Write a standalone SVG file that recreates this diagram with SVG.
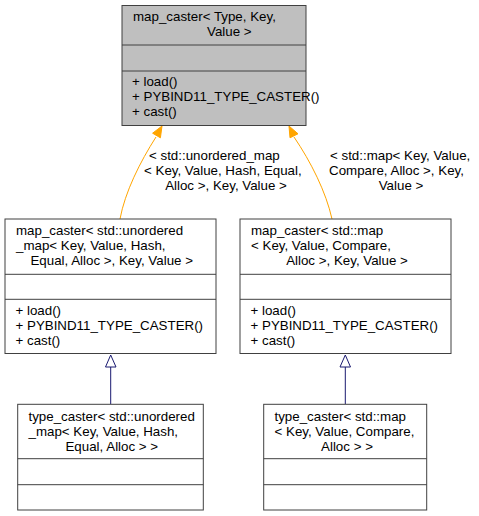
<svg xmlns="http://www.w3.org/2000/svg" width="479" height="516" viewBox="0 0 479 516">
<style>
text{font-family:"Liberation Sans",Arial,sans-serif;font-size:13.33px;fill:#000}
.box{fill:#fff;stroke:#404040;stroke-width:1}
.hl{fill:#bfbfbf}
.div{stroke:#404040;stroke-width:1;fill:none}
.m{text-anchor:middle}
.ed{fill:none;stroke:#ffa500;stroke-width:1}
.eh{fill:#ffa500;stroke:#ffa500}
.in{fill:none;stroke:#191970;stroke-width:1}
.ih{fill:#fff;stroke:#191970}
</style>
<rect width="479" height="516" fill="#fff"/>
<g id="connectors">
<path class="ed" d="M120,219 C125,192 140,162 156,137"/>
<polygon class="eh" points="162,126 152.6,133.2 160.4,137.8"/>
<path class="ed" d="M332,219 C326,192 311,162 294,137"/>
<polygon class="eh" points="289,126 298,133.8 290,137.8"/>
<text x="149" y="160">&lt; std::unordered_map</text>
<text x="144" y="175">&lt; Key, Value, Hash, Equal,</text>
<text x="226" y="190" class="m">Alloc &gt;, Key, Value &gt;</text>
<text x="330" y="160">&lt; std::map&lt; Key, Value,</text>
<text x="329" y="175">Compare, Alloc &gt;, Key,</text>
<text x="401" y="190" class="m">Value &gt;</text>
<line class="in" x1="110.7" y1="367" x2="110.7" y2="404"/>
<polygon class="ih" points="110.7,355 105.5,367 116,367"/>
<line class="in" x1="345.3" y1="367" x2="345.3" y2="404"/>
<polygon class="ih" points="345.3,355 340,367 350.5,367"/>
</g>
<g id="node-map_caster">
<rect class="box hl" x="122" y="5.5" width="184" height="120"/>
<line class="div" x1="122" y1="45" x2="306" y2="45"/>
<line class="div" x1="122" y1="71" x2="306" y2="71"/>
<text x="133" y="21">map_caster&lt; Type, Key,</text>
<text x="229.3" y="36" class="m">Value &gt;</text>
<text x="132" y="86">+ load()</text>
<text x="132" y="101">+ PYBIND11_TYPE_CASTER()</text>
<text x="132" y="116">+ cast()</text>
</g>
<g id="node-map_caster_unordered">
<rect class="box" x="5" y="219" width="211" height="134.5"/>
<line class="div" x1="5" y1="274.3" x2="216" y2="274.3"/>
<line class="div" x1="5" y1="299.3" x2="216" y2="299.3"/>
<text x="16" y="235">map_caster&lt; std::unordered</text>
<text x="16" y="250">_map&lt; Key, Value, Hash,</text>
<text x="111.7" y="265" class="m">Equal, Alloc &gt;, Key, Value &gt;</text>
<text x="15.5" y="315">+ load()</text>
<text x="15.5" y="330">+ PYBIND11_TYPE_CASTER()</text>
<text x="15.5" y="345">+ cast()</text>
</g>
<g id="node-map_caster_map">
<rect class="box" x="240" y="219" width="211" height="134.5"/>
<line class="div" x1="240" y1="274.3" x2="451" y2="274.3"/>
<line class="div" x1="240" y1="299.3" x2="451" y2="299.3"/>
<text x="251" y="235">map_caster&lt; std::map</text>
<text x="251" y="250">&lt; Key, Value, Compare,</text>
<text x="347" y="265" class="m">Alloc &gt;, Key, Value &gt;</text>
<text x="250.5" y="315">+ load()</text>
<text x="250.5" y="330">+ PYBIND11_TYPE_CASTER()</text>
<text x="250.5" y="345">+ cast()</text>
</g>
<g id="node-type_caster_unordered">
<rect class="box" x="17.7" y="404.3" width="185.6" height="105.7"/>
<line class="div" x1="17.7" y1="458.7" x2="203.3" y2="458.7"/>
<line class="div" x1="17.7" y1="484.7" x2="203.3" y2="484.7"/>
<text x="28.5" y="421">type_caster&lt; std::unordered</text>
<text x="28.5" y="436">_map&lt; Key, Value, Hash,</text>
<text x="111.8" y="451" class="m">Equal, Alloc &gt; &gt;</text>
</g>
<g id="node-type_caster_map">
<rect class="box" x="263.7" y="404.3" width="163" height="105.7"/>
<line class="div" x1="263.7" y1="458.7" x2="426.7" y2="458.7"/>
<line class="div" x1="263.7" y1="484.7" x2="426.7" y2="484.7"/>
<text x="274.5" y="421">type_caster&lt; std::map</text>
<text x="274.5" y="436">&lt; Key, Value, Compare,</text>
<text x="347" y="451" class="m">Alloc &gt; &gt;</text>
</g>
</svg>
